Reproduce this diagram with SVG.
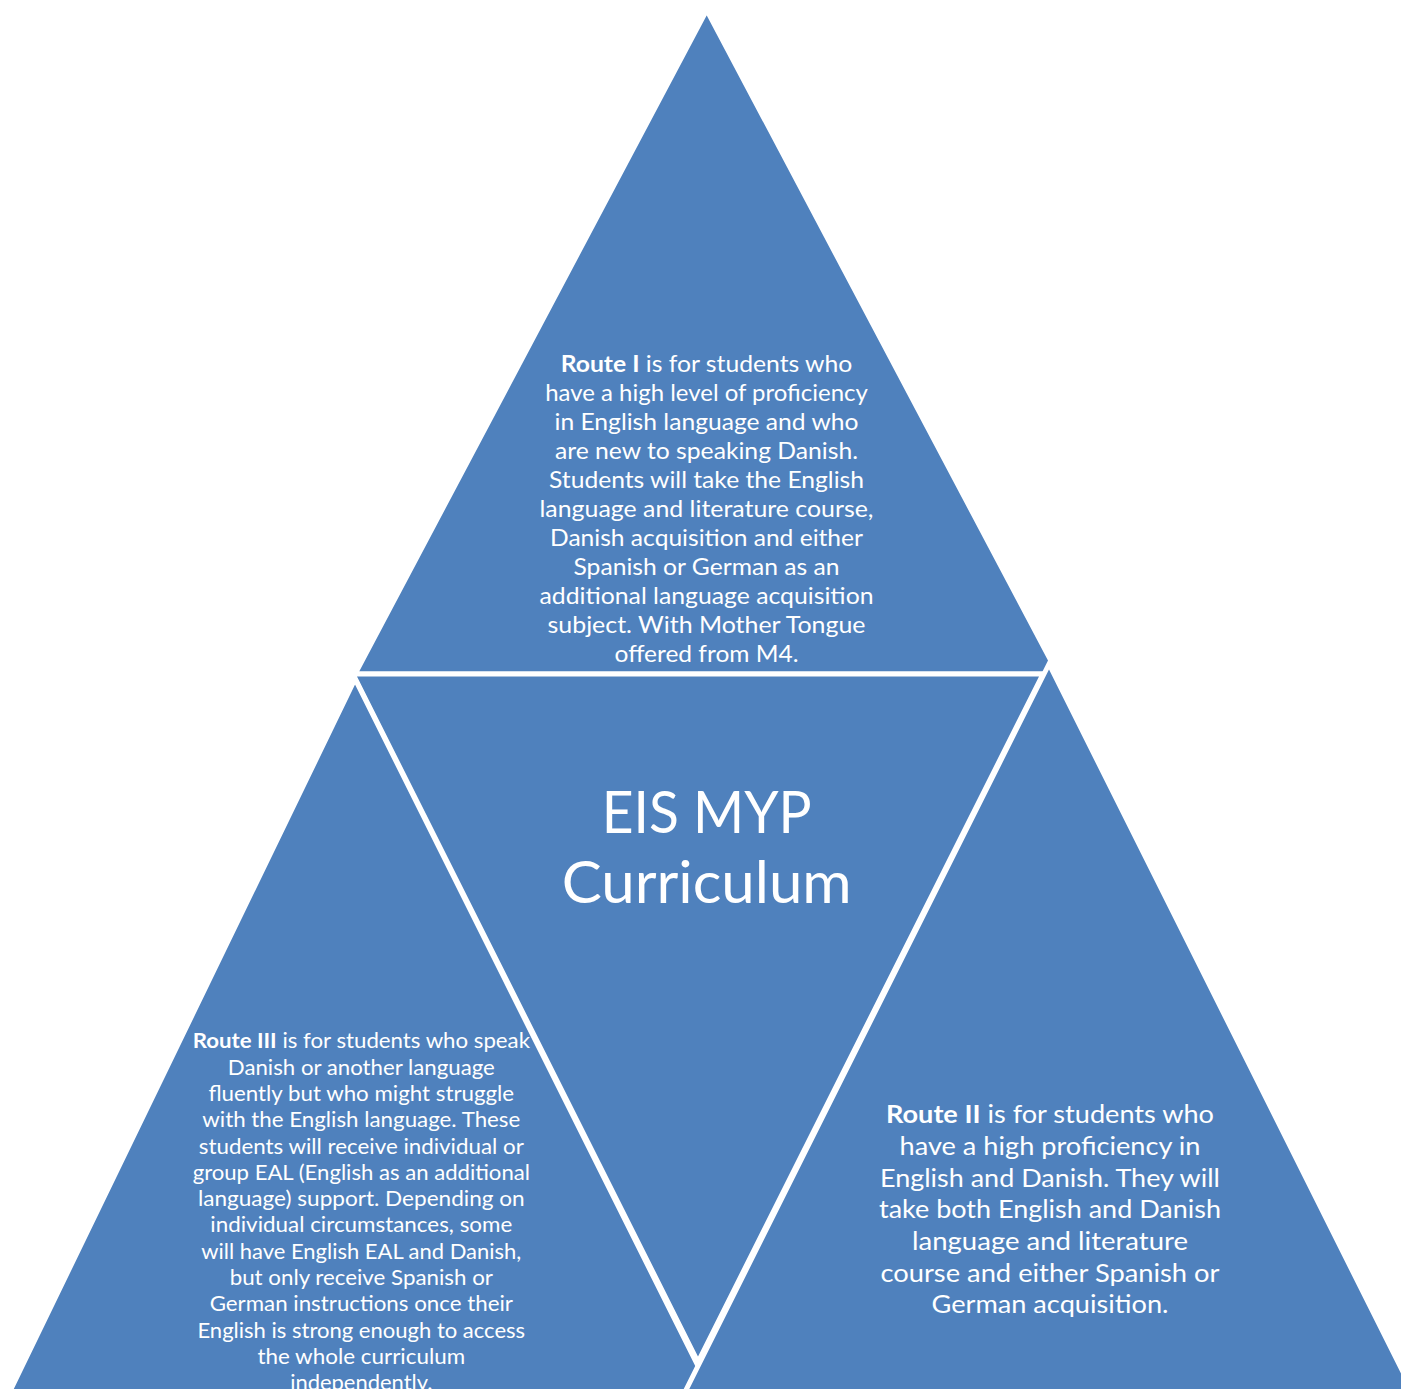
<svg xmlns="http://www.w3.org/2000/svg" width="1401" height="1389" viewBox="0 0 1401 1389">
<style>
.tri{fill:#4F81BD;stroke:#FFFFFF;stroke-width:5;stroke-linejoin:miter}
.t{font-family:Lato,"Open Sans","Liberation Sans",sans-serif;fill:#FFFFFF;text-anchor:middle}
.top{font-size:23.5px}
.rt{font-size:25px}
.lf{font-size:21px}
.ct{font-size:58px}
.b{font-weight:bold}
</style>
<rect x="0" y="0" width="1401" height="1389" fill="#FFFFFF"/>
<g id="node-top">
<polygon class="tri" points="706.7,10 1058,674 355,674"/>
<g class="t top">
<text x="706.5" y="371.7" textLength="291.7" lengthAdjust="spacingAndGlyphs"><tspan class="b">Route I</tspan> is for students who</text>
<text x="706.5" y="400.7" textLength="322.7" lengthAdjust="spacingAndGlyphs">have a high level of proficiency</text>
<text x="706.5" y="429.7" textLength="304" lengthAdjust="spacingAndGlyphs">in English language and who</text>
<text x="706.5" y="458.7" textLength="303" lengthAdjust="spacingAndGlyphs">are new to speaking Danish.</text>
<text x="706.5" y="487.7" textLength="315" lengthAdjust="spacingAndGlyphs">Students will take the English</text>
<text x="706.5" y="516.7" textLength="334" lengthAdjust="spacingAndGlyphs">language and literature course,</text>
<text x="706.5" y="545.7" textLength="313" lengthAdjust="spacingAndGlyphs">Danish acquisition and either</text>
<text x="706.5" y="574.7" textLength="266" lengthAdjust="spacingAndGlyphs">Spanish or German as an</text>
<text x="706.5" y="603.7" textLength="334" lengthAdjust="spacingAndGlyphs">additional language acquisition</text>
<text x="706.5" y="632.7" textLength="318" lengthAdjust="spacingAndGlyphs">subject. With Mother Tongue</text>
<text x="706.5" y="661.7" textLength="184" lengthAdjust="spacingAndGlyphs">offered from M4.</text>
</g>
</g>
<g id="node-center">
<polygon class="tri" points="353,674 1043,674 698,1362"/>
<g class="t ct">
<text x="706.7" y="833.3" textLength="210" lengthAdjust="spacingAndGlyphs">EIS MYP</text>
<text x="706.7" y="903.3" textLength="290" lengthAdjust="spacingAndGlyphs">Curriculum</text>
</g>
</g>
<g id="node-left">
<polygon class="tri" points="355,679 725,1420 -4,1420"/>
<g class="t lf">
<text x="361.3" y="1048.3" textLength="337.3" lengthAdjust="spacingAndGlyphs"><tspan class="b">Route III</tspan> is for students who speak</text>
<text x="361.3" y="1074.6" textLength="267" lengthAdjust="spacingAndGlyphs">Danish or another language</text>
<text x="361.3" y="1100.9" textLength="305.7" lengthAdjust="spacingAndGlyphs">fluently but who might struggle</text>
<text x="361.3" y="1127.2" textLength="318" lengthAdjust="spacingAndGlyphs">with the English language. These</text>
<text x="361.3" y="1153.5" textLength="325" lengthAdjust="spacingAndGlyphs">students will receive individual or</text>
<text x="361.3" y="1179.8" textLength="337.3" lengthAdjust="spacingAndGlyphs">group EAL (English as an additional</text>
<text x="361.3" y="1206.1" textLength="326.7" lengthAdjust="spacingAndGlyphs">language) support. Depending on</text>
<text x="361.3" y="1232.4" textLength="302" lengthAdjust="spacingAndGlyphs">individual circumstances, some</text>
<text x="361.3" y="1258.7" textLength="320" lengthAdjust="spacingAndGlyphs">will have English EAL and Danish,</text>
<text x="361.3" y="1285" textLength="263.3" lengthAdjust="spacingAndGlyphs">but only receive Spanish or</text>
<text x="361.3" y="1311.3" textLength="303.3" lengthAdjust="spacingAndGlyphs">German instructions once their</text>
<text x="361.3" y="1337.6" textLength="327.7" lengthAdjust="spacingAndGlyphs">English is strong enough to access</text>
<text x="361.3" y="1363.9" textLength="207.7" lengthAdjust="spacingAndGlyphs">the whole curriculum</text>
<text x="361.3" y="1390.2" textLength="142.3" lengthAdjust="spacingAndGlyphs">independently.</text>
</g>
</g>
<g id="node-right">
<polygon class="tri" points="1049,664 1437,1440 661,1440"/>
<g class="t rt">
<text x="1050" y="1123.3" textLength="328" lengthAdjust="spacingAndGlyphs"><tspan class="b">Route II</tspan> is for students who</text>
<text x="1050" y="1155" textLength="301" lengthAdjust="spacingAndGlyphs">have a high proficiency in</text>
<text x="1050" y="1186.7" textLength="340" lengthAdjust="spacingAndGlyphs">English and Danish. They will</text>
<text x="1050" y="1218.3" textLength="342" lengthAdjust="spacingAndGlyphs">take both English and Danish</text>
<text x="1050" y="1250" textLength="276" lengthAdjust="spacingAndGlyphs">language and literature</text>
<text x="1050" y="1281.7" textLength="339" lengthAdjust="spacingAndGlyphs">course and either Spanish or</text>
<text x="1050" y="1313.3" textLength="237" lengthAdjust="spacingAndGlyphs">German acquisition.</text>
</g>
</g>
<g id="connectors"></g>
</svg>
